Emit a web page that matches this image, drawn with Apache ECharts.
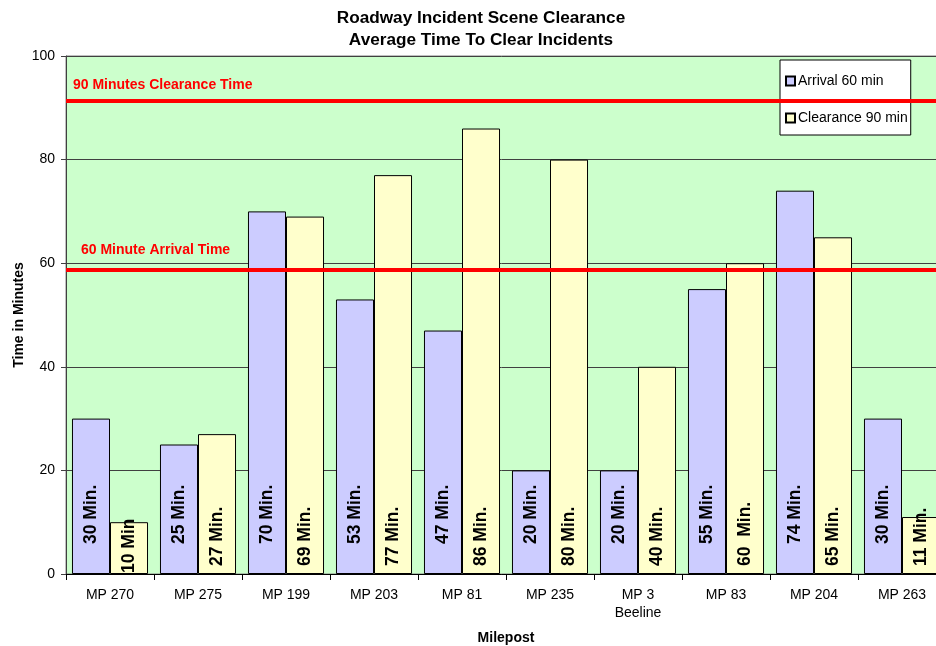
<!DOCTYPE html>
<html>
<head>
<meta charset="utf-8">
<script src="https://cdn.jsdelivr.net/npm/echarts@6/dist/echarts.min.js"></script>
<style>
  html, body { margin: 0; padding: 0; background: #ffffff; }
  #chart { width: 936px; height: 646px; }
</style>
</head>
<body>
<div id="chart"></div>
<script>
// Mileposts along the roadway
const categories = ['MP 270', 'MP 275', 'MP 199', 'MP 203', 'MP 81', 'MP 235', 'MP 3\nBeeline', 'MP 83', 'MP 204', 'MP 263'];
// Average arrival time (minutes)
const arrival = [30, 25, 70, 53, 47, 20, 20, 55, 74, 30];
// Average clearance time (minutes)
const clearance = [10, 27, 69, 77, 86, 80, 40, 60, 65, 11];
// Bar label wording ({v} is replaced by the bar value)
const arrivalLabelFormats = ['{v} Min.', '{v} Min.', '{v} Min.', '{v} Min.', '{v} Min.', '{v} Min.', '{v} Min.', '{v} Min.', '{v} Min.', '{v} Min.'];
const clearanceLabelFormats = ['{v} Min', '{v} Min.', '{v} Min.', '{v} Min.', '{v} Min.', '{v} Min.', '{v} Min.', '{v}  Min.', '{v} Min.', '{v} Min.'];
// Target reference lines
const refLineValues = [91.3, 58.7];
const refLineTexts = ['90 Minutes Clearance Time', '60 Minute Arrival Time'];
// Value axis
const yMin = 0, yMax = 100, yStep = 20;

const FONT = '"Liberation Sans", Arial, sans-serif';
const TXT = 14;

const chart = echarts.init(document.getElementById('chart'), null, { renderer: 'canvas' });

function barLabel(distance) {
  return {
    show: true,
    position: 'insideBottom',
    rotate: 90,
    align: 'left',
    verticalAlign: 'middle',
    distance: distance,
    fontFamily: FONT,
    fontWeight: 'bold',
    fontSize: 17.5,
    color: '#000000'
  };
}

const clearanceData = clearance.map((v, i) => {
  const item = { value: v };
  if (i === 0) item.label = { distance: 1 };
  return item;
});

const refLabelShift = [[7, 9], [15, 13]];

chart.setOption({
  animation: false,
  backgroundColor: '#ffffff',
  textStyle: { fontFamily: FONT },
  title: {
    text: 'Roadway Incident Scene Clearance\nAverage Time To Clear Incidents',
    left: 476,
    top: 2,
    textAlign: 'center',
    textStyle: { fontFamily: FONT, fontWeight: 'bold', fontSize: 17.2, lineHeight: 22, color: '#000000' }
  },
  legend: {
    data: ['Arrival 60 min', 'Clearance 90 min'],
    orient: 'vertical',
    left: 780,
    top: 60,
    padding: [14, 3, 10, 5],
    itemGap: 23,
    itemWidth: 9,
    itemHeight: 9,
    icon: 'rect',
    backgroundColor: '#ffffff',
    borderColor: '#000000',
    borderWidth: 1,
    z: 4,
    textStyle: { fontFamily: FONT, fontSize: TXT, color: '#000000', padding: [0, 0, 0, -2] }
  },
  grid: {
    left: 66,
    top: 56,
    right: -10,
    bottom: 72,
    outerBoundsMode: 'none',
    containLabel: false,
    show: true,
    backgroundColor: '#ccffcc',
    borderColor: '#808080',
    borderWidth: 1
  },
  xAxis: {
    type: 'category',
    data: categories,
    name: 'Milepost',
    nameLocation: 'middle',
    nameGap: 57,
    nameMoveOverlap: false,
    nameTextStyle: { fontFamily: FONT, fontWeight: 'bold', fontSize: TXT, color: '#000000' },
    axisLine: { show: true, lineStyle: { color: '#000000', width: 1 } },
    axisTick: { show: true, length: 6, lineStyle: { color: '#000000' } },
    axisLabel: { fontFamily: FONT, fontSize: TXT, color: '#000000', margin: 12, lineHeight: 18 },
    splitLine: { show: false }
  },
  yAxis: {
    type: 'value',
    min: yMin,
    max: yMax,
    interval: yStep,
    name: 'Time in Minutes',
    nameLocation: 'middle',
    nameGap: 40,
    nameMoveOverlap: false,
    nameRotate: 90,
    nameTextStyle: { fontFamily: FONT, fontWeight: 'bold', fontSize: TXT, color: '#000000' },
    axisLine: { show: true, lineStyle: { color: '#404040', width: 1 } },
    axisTick: { show: true, length: 5, lineStyle: { color: '#404040' } },
    axisLabel: { fontFamily: FONT, fontSize: TXT, color: '#000000', margin: 11 },
    splitLine: { show: true, lineStyle: { color: '#404040', width: 1 } }
  },
  series: [
    {
      name: 'Arrival 60 min',
      type: 'bar',
      data: arrival,
      barGap: '0%',
      barCategoryGap: '13.6%',
      itemStyle: { color: '#ccccff', borderColor: '#000000', borderWidth: 1 },
      label: Object.assign(barLabel(30), {
        formatter: p => arrivalLabelFormats[p.dataIndex].replace('{v}', p.value)
      })
    },
    {
      name: 'Clearance 90 min',
      type: 'bar',
      data: clearanceData,
      barGap: '0%',
      barCategoryGap: '13.6%',
      itemStyle: { color: '#ffffcc', borderColor: '#000000', borderWidth: 1 },
      label: Object.assign(barLabel(8), {
        formatter: p => clearanceLabelFormats[p.dataIndex].replace('{v}', p.value)
      })
    },
    {
      name: 'targets',
      type: 'line',
      data: [],
      z: 10,
      silent: true,
      markLine: {
        silent: true,
        symbol: ['none', 'none'],
        lineStyle: { color: '#ff0000', width: 4, type: 'solid' },
        data: refLineValues.map((v, i) => ({
          yAxis: v,
          label: {
            show: true,
            position: 'insideStartTop',
            distance: refLabelShift[i],
            formatter: refLineTexts[i],
            fontFamily: FONT,
            fontWeight: 'bold',
            fontSize: TXT,
            color: '#ff0000'
          }
        }))
      }
    }
  ]
});
</script>
</body>
</html>
